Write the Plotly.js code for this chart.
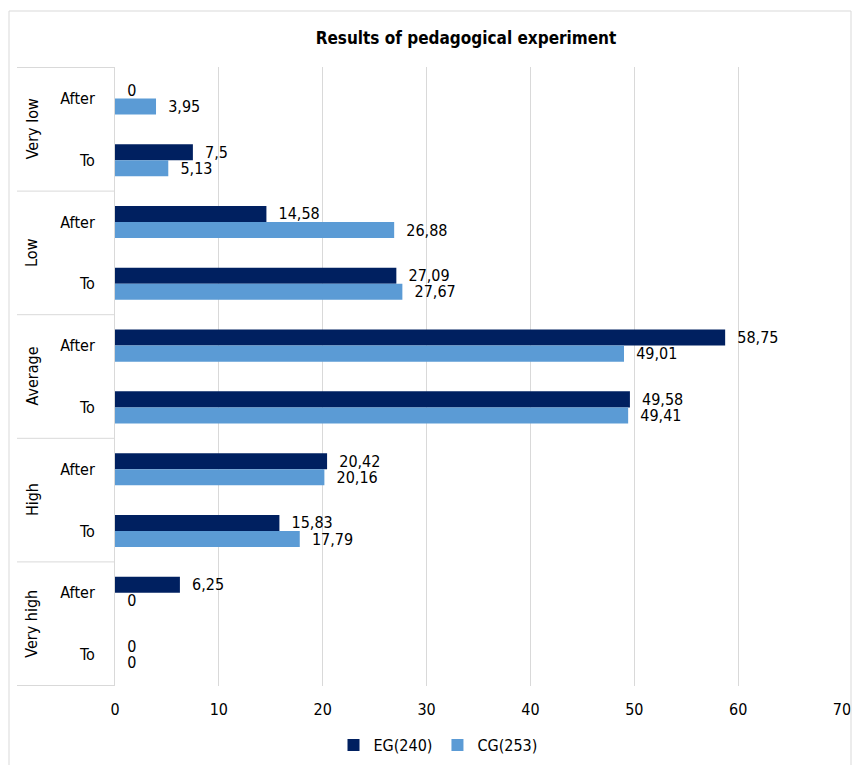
<!DOCTYPE html>
<html>
<head>
<meta charset="utf-8">
<script src="https://cdn.plot.ly/plotly-3.0.1.min.js"></script>
<style>html,body{margin:0;padding:0;background:#fff;}#chart{width:861px;height:765px;}</style>
</head>
<body>
<div id="chart"></div>
<script>
const groups = ["Very low", "Low", "Average", "High", "Very high"];
const stages = ["After", "To"];
const egValues = [0, 7.5, 14.58, 27.09, 58.75, 49.58, 20.42, 15.83, 6.25, 0];
const cgValues = [3.95, 5.13, 26.88, 27.67, 49.01, 49.41, 20.16, 17.79, 0, 0];
const seriesNames = ["EG(240)", "CG(253)"];
const xTicks = [0, 10, 20, 30, 40, 50, 60, 70];

const cats = [], tickText = [];
groups.forEach(g => stages.forEach(s => { cats.push(g + "|" + s); tickText.push(s); }));
const fmt = v => "\u00a0\u00a0" + String(v).replace(".", ",");
const FONT = "DejaVu Sans Condensed, DejaVu Sans, sans-serif";

const traces = [
  {type: "bar", orientation: "h", name: seriesNames[0], y: cats, x: egValues,
   marker: {color: "#002060"}, text: egValues.map(fmt), textposition: "outside",
   constraintext: "none", cliponaxis: false, textfont: {size: 16, color: "#000"}},
  {type: "bar", orientation: "h", name: seriesNames[1], y: cats, x: cgValues,
   marker: {color: "#5B9BD5"}, text: cgValues.map(fmt), textposition: "outside",
   constraintext: "none", cliponaxis: false, textfont: {size: 16, color: "#000"}}
];

const W = 727, H = 619;
const px = x => (x - 115) / W;
const py = y => (686 - y) / H;

const shapes = [
  {type: "rect", xref: "paper", yref: "paper", x0: px(9), x1: px(851), y0: py(770), y1: py(11),
   line: {color: "#d9d9d9", width: 1}}
];
for (let i = 0; i <= groups.length; i++) {
  shapes.push({type: "line", xref: "paper", yref: "y", x0: px(17), x1: 0, y0: i * 2 - 0.5, y1: i * 2 - 0.5,
    line: {color: "#d9d9d9", width: 1}});
}
const annotations = groups.map((g, i) => ({
  xref: "paper", yref: "y", x: px(32), y: i * 2 + 0.5, text: g, showarrow: false,
  xanchor: "center", yanchor: "middle",
  textangle: -90, font: {size: 16, color: "#000", family: FONT}
}));

const layout = {
  width: 861, height: 765,
  margin: {l: 115, r: 19, t: 67, b: 79, autoexpand: false},
  paper_bgcolor: "#fff", plot_bgcolor: "#fff",
  font: {family: FONT, size: 16, color: "#000"},
  title: {text: "<b>Results of pedagogical experiment</b>", x: px(466), xanchor: "center",
    xref: "paper", y: 1 - 38 / 765, yanchor: "middle",
    font: {size: 17, family: FONT, color: "#000"}},
  barmode: "group", bargap: 0.48, bargroupgap: 0,
  xaxis: {range: [0, 70], tickvals: xTicks, showgrid: true, gridcolor: "#d9d9d9", gridwidth: 1,
    zeroline: false, showline: false, ticks: "", tickfont: {size: 16}, ticklabelstandoff: 12,
    automargin: false, fixedrange: true},
  yaxis: {type: "category", categoryorder: "array", categoryarray: cats, autorange: "reversed",
    tickvals: cats, ticktext: tickText, showgrid: false, zeroline: false,
    showline: true, linecolor: "#d9d9d9", linewidth: 1, ticks: "", tickfont: {size: 16},
    ticklabelstandoff: 16, automargin: false, range: [9.5, -0.5]},
  showlegend: true,
  legend: {orientation: "h", x: px(438), xanchor: "center", yref: "container", y: 1 - 745 / 765, yanchor: "middle",
    font: {size: 16}, traceorder: "normal"},
  shapes: shapes, annotations: annotations
};
Plotly.newPlot("chart", traces, layout, {displayModeBar: false, staticPlot: true});
</script>
</body>
</html>
